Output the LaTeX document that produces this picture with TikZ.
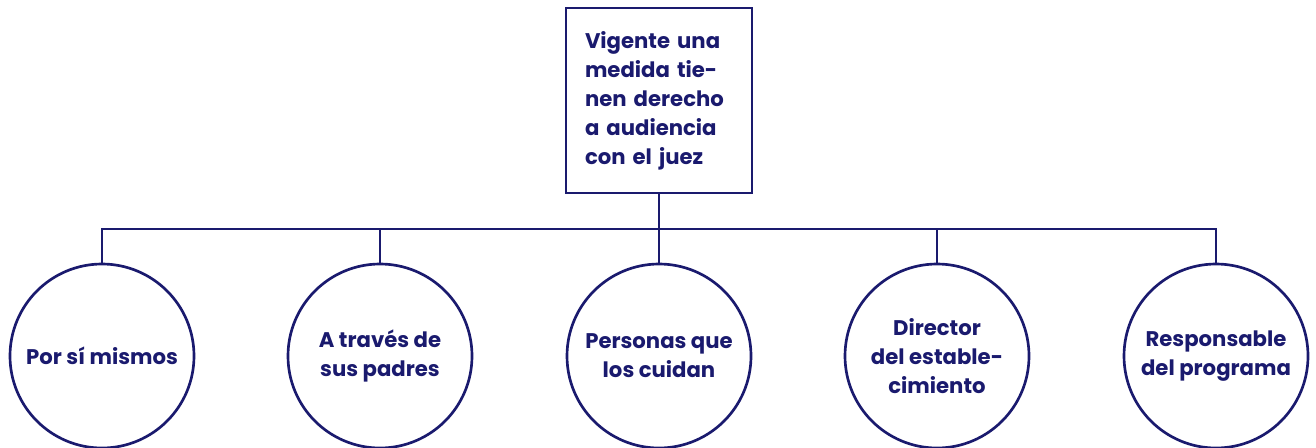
\documentclass[tikz,border=0pt]{standalone}
\usepackage{fontspec}
\setmainfont{Poppins}
\usepackage{tikz}
\definecolor{tinta}{RGB}{26,26,110}
\tikzset{
	caja/.style={draw=tinta, line width=2pt, rectangle, inner sep=0pt,
		minimum width=186*0.75pt, minimum height=185*0.75pt,
		text width=148*0.75pt, align=left},
	bola/.style={draw=tinta, line width=2pt, circle, inner sep=0pt,
		minimum size=184*0.75pt, align=center},
	rama/.style={draw=tinta, line width=2pt}
}

\begin{document}
\begin{tikzpicture}[x=0.75pt,y=-0.75pt,
		every node/.style={text=tinta, font=\bfseries\fontsize{15.9}{21.8}\selectfont}]
			\useasboundingbox (0,0) rectangle (1316,447);
			\node[caja] (juez) at (659,100.5) {Vigente una\\medida tie-\\nen derecho\\a audiencia\\con el juez};
			\node[bola] (mismos) at (102,356) {Por sí mismos};
			\node[bola] (padres) at (380,356) {A través de\\sus padres};
			\node[bola] (cuidan) at (659,356) {Personas que\\los cuidan};
			\node[bola] (director) at (937,356) {Director\\del estable-\\cimiento};
			\node[bola] (programa) at (1216,356) {Responsable\\del programa};
			\coordinate (barra) at (659,229);
			\draw[rama](juez.south) -- (barra);
			\draw[rama](mismos.north) -- (mismos.north |- barra) -- (programa.north |- barra) -- (programa.north);
			\draw[rama](padres.north) -- (padres.north |- barra);
			\draw[rama](cuidan.north) -- (barra);
			\draw[rama](director.north) -- (director.north |- barra);
		\end{tikzpicture}
\end{document}
